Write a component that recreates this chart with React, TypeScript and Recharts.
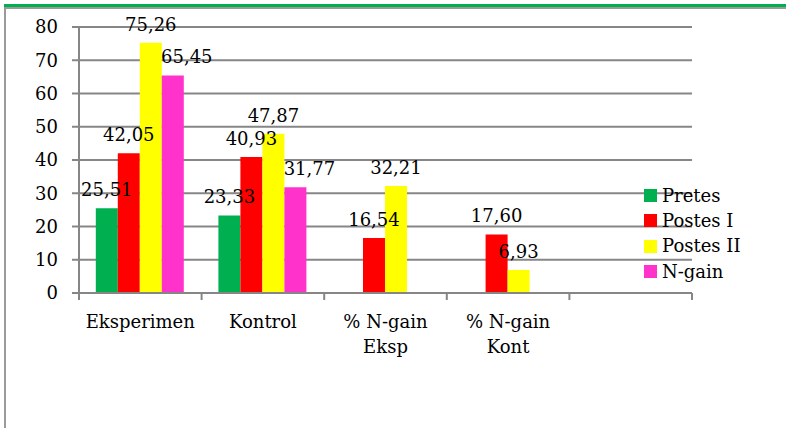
import React from "react";
import { BarChart, Bar, XAxis, YAxis, CartesianGrid, Legend, LabelList } from "recharts";

// groups on the x axis ("\n" breaks a label onto a second line)
const categories = ["Eksperimen", "Kontrol", "% N-gain\nEksp", "% N-gain\nKont", ""];

const pretes = [25.51, 23.33, null, null, null];
const postesI = [42.05, 40.93, 16.54, 17.6, null];
const postesII = [75.26, 47.87, 32.21, 6.93, null];
const nGain = [65.45, 31.77, null, null, null];

const yTicks = [0, 10, 20, 30, 40, 50, 60, 70, 80];

const series = [
  { key: "pretes", name: "Pretes", color: "#00b050", values: pretes },
  { key: "postesI", name: "Postes I", color: "#ff0000", values: postesI },
  { key: "postesII", name: "Postes II", color: "#ffff00", values: postesII },
  { key: "nGain", name: "N-gain", color: "#ff33cc", values: nGain },
];

const data = categories.map((category, i) => {
  const row: Record<string, string | number | null> = { category };
  series.forEach((s) => (row[s.key] = s.values[i]));
  return row;
});

const FONT = '"DejaVu Serif", "Liberation Serif", "Noto Serif", serif';
const FS = 18;
const AXIS = "#868686";

const fmt = (v: any) => (v == null ? "" : Number(v).toFixed(2).replace(".", ","));

// category label centred in the band, tick marks on the band edges
const CategoryTick = (props: any) => {
  const { x, y, payload, index, visibleTicksCount } = props;
  const half = payload?.offset ?? 0;
  const lines = String(payload.value).split("\n");
  const last = index === visibleTicksCount - 1;
  return (
    <g>
      <line x1={x - half} x2={x - half} y1={y} y2={y + 7} stroke={AXIS} strokeWidth={2} />
      {last && <line x1={x + half} x2={x + half} y1={y} y2={y + 7} stroke={AXIS} strokeWidth={2} />}
      <text x={x} y={y + 35} textAnchor="middle" fontFamily={FONT} fontSize={FS} fill="#000">
        {lines.map((l, i) => (
          <tspan key={i} x={x} dy={i === 0 ? 0 : 25}>
            {l}
          </tspan>
        ))}
      </text>
    </g>
  );
};

const LegendBox = () => (
  <div style={{ fontFamily: FONT, fontSize: FS, color: "#000" }}>
    {series.map((s) => (
      <div key={s.key} style={{ display: "flex", alignItems: "center", height: 25.3 }}>
        <span style={{ width: 13, height: 13, background: s.color, marginRight: 5, display: "inline-block" }} />
        <span style={{ lineHeight: 1 }}>{s.name}</span>
      </div>
    ))}
  </div>
);

const labelStyle = { fontFamily: FONT, fontSize: FS, fill: "#000" };

export default function App() {
  return (
    <div style={{ position: "absolute", left: 0, top: 0, width: 786, height: 428, background: "#fff", overflow: "hidden" }}>
      <div
        style={{
          position: "absolute",
          left: 4,
          top: 4,
          right: 0,
          bottom: -10,
          borderTop: "3px solid #00b050",
        }}
      >
        <div style={{ position: "absolute", inset: 0, borderTop: "2px solid #9a9a9a", borderLeft: "2px solid #9a9a9a" }} />
      </div>
      <div style={{ position: "absolute", left: 0, top: 0 }}>
        <BarChart
          width={786}
          height={428}
          data={data}
          margin={{ top: 27, right: 94, left: 0, bottom: 75 }}
          barCategoryGap="13.7%"
          barGap={0}
        >
          <CartesianGrid vertical={false} stroke={AXIS} strokeWidth={2} />
          <XAxis
            dataKey="category"
            interval={0}
            height={60}
            tickSize={0}
            tickMargin={0}
            tickLine={false}
            axisLine={{ stroke: AXIS, strokeWidth: 2 }}
            tick={<CategoryTick />}
          />
          <YAxis
            domain={[0, 80]}
            ticks={yTicks}
            interval={0}
            width={79}
            tickSize={7}
            tickMargin={14}
            axisLine={{ stroke: AXIS, strokeWidth: 2 }}
            tickLine={{ stroke: AXIS, strokeWidth: 2 }}
            tick={{ fill: "#000", fontSize: FS, fontFamily: FONT }}
          />
          <Legend
            layout="horizontal"
            align="center"
            verticalAlign="middle"
            content={<LegendBox />}
            wrapperStyle={{ left: 644, top: 183, width: "auto" }}
          />
          {series.map((s) => (
            <Bar key={s.key} dataKey={s.key} name={s.name} fill={s.color} isAnimationActive={false}>
              <LabelList
                dataKey={s.key}
                position="top"
                offset={12}
                dx={s.key === "nGain" ? 14 : 0}
                formatter={fmt}
                style={labelStyle}
              />
            </Bar>
          ))}
        </BarChart>
      </div>
    </div>
  );
}
